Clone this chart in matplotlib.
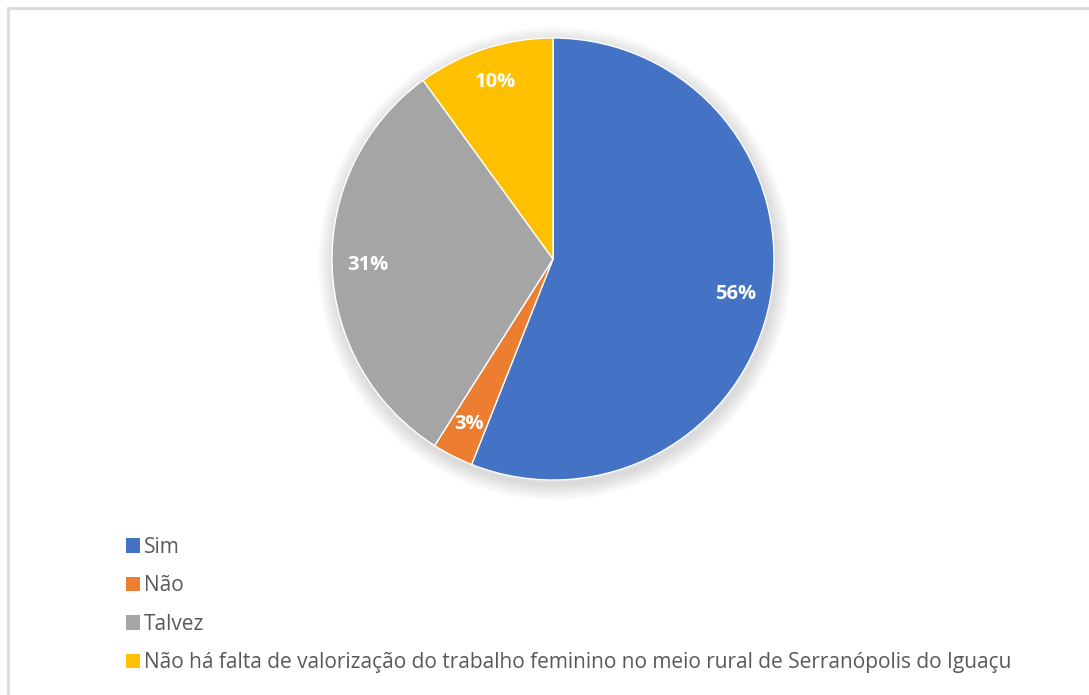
import matplotlib
matplotlib.use("Agg")
import matplotlib.pyplot as plt
from matplotlib.patches import Circle, Rectangle

plt.rcParams["font.family"] = ["Open Sans", "DejaVu Sans"]

labels = ["Sim", "Não", "Talvez",
          "Não há falta de valorização do trabalho feminino no meio rural de Serranópolis do Iguaçu"]
values = [56, 3, 31, 10]
colors = ["#4472C4", "#ED7D31", "#A5A5A5", "#FFC000"]

fig = plt.figure(figsize=(10.89, 6.95), dpi=100)
fig.patch.set_facecolor("white")

# chart frame (clipped on the right and bottom in the reference)
fig.patches.append(Rectangle((8 / 1089, -0.05), 1.2, 1 - 8 / 695 + 0.05, transform=fig.transFigure,
                             fill=False, edgecolor="#D9D9D9", linewidth=2))

ax = fig.add_axes([553 / 1089 - 221 / 1089, 1 - 259 / 695 - 221 / 695, 442 / 1089, 442 / 695])

# soft shadow
for i in range(12):
    r = 1.0 + 0.006 * (i + 1)
    ax.add_patch(Circle((0.008, -0.02), r, facecolor="black", edgecolor="none",
                        alpha=0.01, zorder=0, clip_on=False))

wedges, texts, autotexts = ax.pie(
    values, colors=colors, startangle=90, counterclock=False,
    autopct="%1.0f%%", pctdistance=0.84,
    wedgeprops=dict(edgecolor="white", linewidth=1.0),
    textprops=dict(color="white", fontsize=14.5, fontweight="bold"),
)
for w in wedges:
    w.set_zorder(2)
for t in autotexts:
    t.set_zorder(3)
ax.set_xlim(-1, 1)
ax.set_ylim(-1, 1)
ax.set_aspect("equal")
ax.axis("off")

leg = fig.legend(wedges, labels, loc="upper left", bbox_to_anchor=(107 / 1089, 1 - 518 / 695),
                 frameon=False, fontsize=15, labelcolor="#595959",
                 handlelength=0.67, handleheight=0.67, handletextpad=0.2, labelspacing=0.84)
for h in leg.legend_handles:
    h.set_edgecolor("none")

plt.savefig("out.png", dpi=100, facecolor=fig.get_facecolor())
